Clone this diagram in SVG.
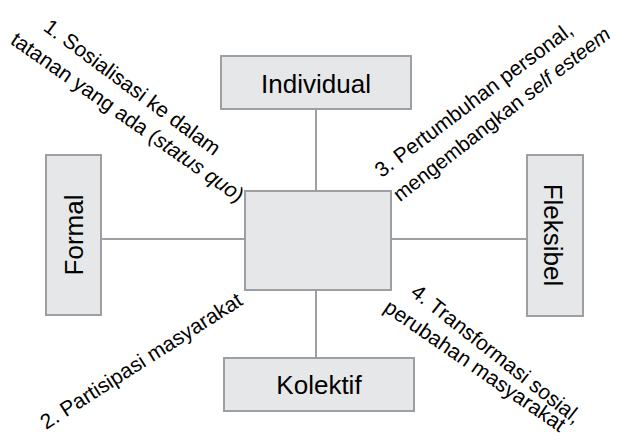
<svg xmlns="http://www.w3.org/2000/svg" width="617" height="441" viewBox="0 0 617 441">
<style>
.box{fill:#e6e7e8;stroke:#9d9fa2;stroke-width:2}
.con{stroke:#9d9fa2;stroke-width:2;fill:none}
.nt{font-family:"Liberation Sans",Arial,sans-serif;font-size:26px;fill:#000}
.lb{font-family:"Liberation Sans",Arial,sans-serif;font-size:21px;fill:#000;text-anchor:middle}
.it{font-style:italic}
</style>
<rect width="617" height="441" fill="#fff"/>
<g id="connectors">
<line class="con" x1="316" y1="109" x2="316" y2="191"/>
<line class="con" x1="316" y1="290" x2="316" y2="358"/>
<line class="con" x1="101" y1="239" x2="245" y2="239"/>
<line class="con" x1="391" y1="239" x2="527" y2="239"/>
</g>
<g id="center"><rect class="box" x="245" y="191" width="146" height="99"/></g>
<g id="individual"><rect class="box" x="221" y="56" width="190" height="53"/><text class="nt" x="316" y="93" text-anchor="middle">Individual</text></g>
<g id="kolektif"><rect class="box" x="224" y="358" width="190" height="53"/><text class="nt" x="319" y="394" text-anchor="middle">Kolektif</text></g>
<g id="formal"><rect class="box" x="46" y="155" width="55" height="160"/><text class="nt" transform="translate(83,235) rotate(-90)" text-anchor="middle">Formal</text></g>
<g id="fleksibel"><rect class="box" x="527" y="155" width="56" height="161"/><text class="nt" transform="translate(544,235) rotate(90)" text-anchor="middle">Fleksibel</text></g>
<g id="label1">
<text class="lb" transform="translate(128,93) rotate(36.5)">1. Sosialisasi ke dalam</text>
<text class="lb" transform="translate(123.5,123) rotate(35)">tatanan yang ada (<tspan class="it">status quo</tspan>)</text>
</g>
<g id="label3">
<text class="lb" transform="translate(478,105.5) rotate(-37)">3. Pertumbuhan personal,</text>
<text class="lb" style="font-size:20.5px" transform="translate(506,119.5) rotate(-38)">mengembangkan <tspan class="it">self esteem</tspan></text>
</g>
<g id="label2">
<text class="lb" transform="translate(145,367) rotate(-32.5)">2. Partisipasi masyarakat</text>
</g>
<g id="label4">
<text class="lb" transform="translate(492,359.5) rotate(38.3)">4. Transformasi sosial,</text>
<text class="lb" transform="translate(471,371.5) rotate(34.6)">perubahan masyarakat</text>
</g>
</svg>
